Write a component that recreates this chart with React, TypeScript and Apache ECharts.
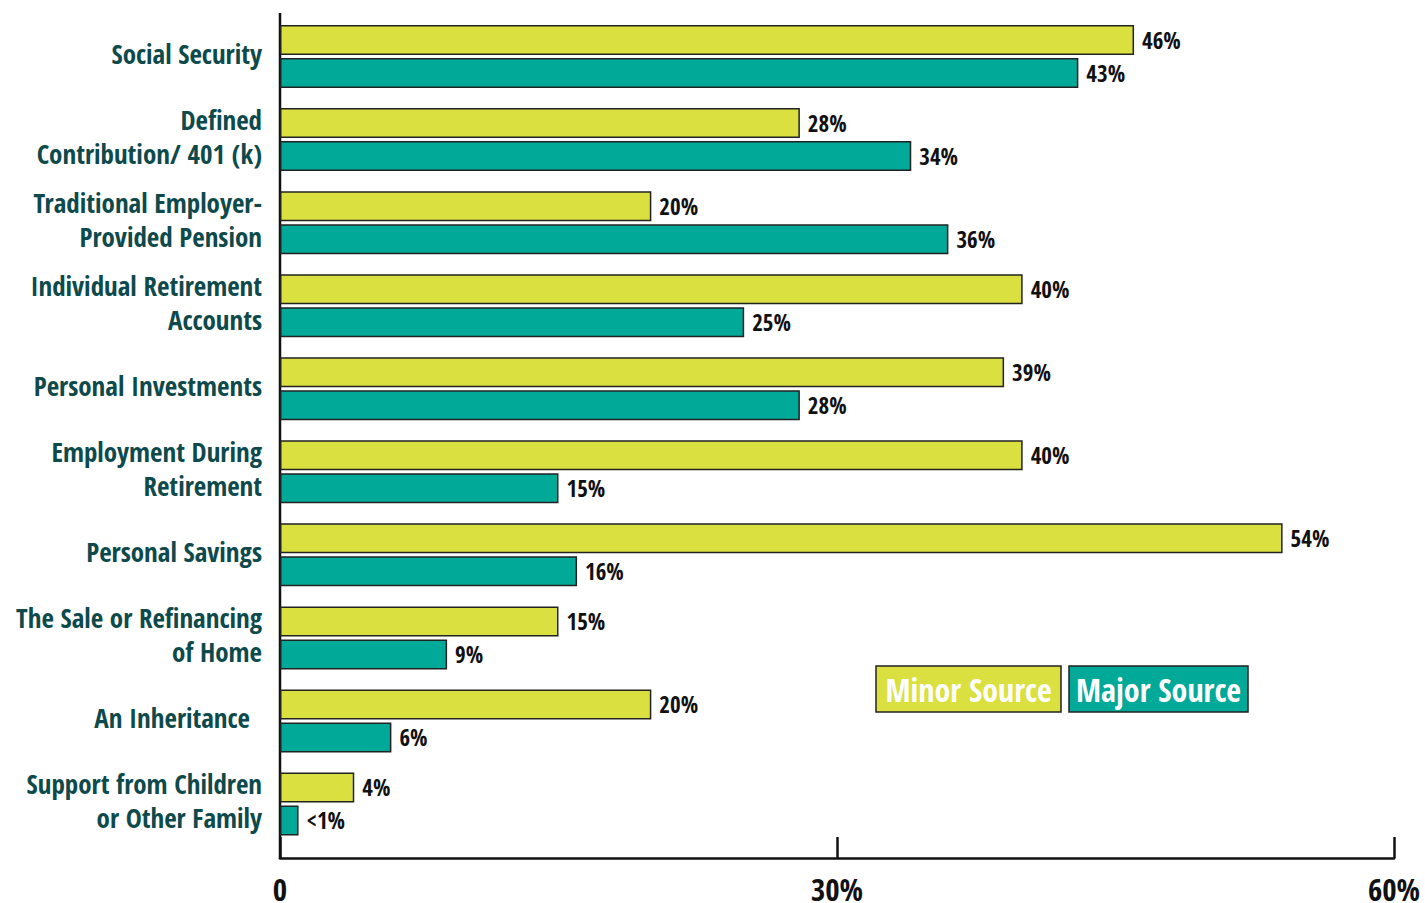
import React, { useEffect, useRef } from "react";
import * as echarts from "echarts";

const categories = [
  "Social Security",
  "Defined\nContribution/ 401 (k)",
  "Traditional Employer-\nProvided Pension",
  "Individual Retirement\nAccounts",
  "Personal Investments",
  "Employment During\nRetirement",
  "Personal Savings",
  "The Sale or Refinancing\nof Home",
  "An Inheritance",
  "Support from Children\nor Other Family",
];
const minorValues = [46, 28, 20, 40, 39, 40, 54, 15, 20, 4];
const majorValues = [43, 34, 36, 25, 28, 15, 16, 9, 6, 1];
const majorLabels = ["43%", "34%", "36%", "25%", "28%", "15%", "16%", "9%", "6%", "<1%"];
const xTicks = [0, 30, 60];
const seriesNames = ["Minor Source", "Major Source"];

const FONT = "'Open Sans Condensed', 'Roboto Condensed', sans-serif";
const YELLOW = "#d9e03f";
const TEAL = "#00a998";
const LABEL_COLOR = "#0e4a4b";

export default function App() {
  const ref = useRef<HTMLDivElement>(null);
  useEffect(() => {
    document.body.style.margin = "0";
    if (!ref.current) return;
    const chart = echarts.init(ref.current, undefined, { renderer: "svg" });
    const gridLeft = 280;
    const gridRight = 31;
    const gridTop = 15;
    const gridHeight = 830.5;
    const axisY = 858;
    const yLabelStyle = {
      fontFamily: FONT,
      fontWeight: "bold",
      fontSize: 27,
      lineHeight: 34,
      color: LABEL_COLOR,
    };
    chart.setOption({
      animation: false,
      grid: { left: gridLeft, right: gridRight, top: gridTop, height: gridHeight, containLabel: false, outerBoundsMode: "none" },
      xAxis: {
        type: "value",
        min: xTicks[0],
        max: xTicks[xTicks.length - 1],
        interval: 30,
        offset: axisY - (gridTop + gridHeight),
        axisLine: { show: true, lineStyle: { color: "#111", width: 2.5 } },
        axisTick: { show: true, inside: true, length: 21, lineStyle: { color: "#111", width: 2.5 } },
        splitLine: { show: false },
        axisLabel: {
          margin: 18,
          fontFamily: FONT,
          fontWeight: "bold",
          fontSize: 31,
          lineHeight: 26,
          color: "#111",
          formatter: (v: number) => (v === 0 ? "0" : v + "%"),
        },
      },
      yAxis: {
        type: "category",
        data: categories,
        inverse: true,
        axisLine: { show: false },
        axisTick: { show: false },
        axisLabel: {
          margin: 18,
          ...yLabelStyle,
          padding: [0, 0, 6, 0],
          align: "right",
          formatter: (v: string) => (v === "An Inheritance" ? "{inh|" + v + "}" : v),
          rich: {
            inh: { ...yLabelStyle, padding: [0, 12, 0, 0] },
          },
        },
      },
      series: [
        {
          name: seriesNames[0],
          type: "bar",
          data: minorValues,
          barWidth: 30,
          barGap: "10%",
          itemStyle: { color: YELLOW, borderColor: "#222", borderWidth: 1.5 },
          label: {
            show: true,
            position: "right",
            distance: 8,
            fontFamily: FONT,
            fontWeight: "bold",
            fontSize: 23,
            color: "#111",
            formatter: (p: any) => p.value + "%",
          },
        },
        {
          name: seriesNames[1],
          type: "bar",
          data: majorValues,
          barWidth: 30,
          barGap: "10%",
          itemStyle: { color: TEAL, borderColor: "#222", borderWidth: 1.5 },
          label: {
            show: true,
            position: "right",
            distance: 8,
            fontFamily: FONT,
            fontWeight: "bold",
            fontSize: 23,
            color: "#111",
            formatter: (p: any) => majorLabels[p.dataIndex],
          },
        },
      ],
      graphic: [
        {
          type: "line",
          shape: { x1: gridLeft, y1: 13, x2: gridLeft, y2: axisY + 1 },
          style: { stroke: "#111", lineWidth: 2.5 },
        },
        {
          type: "group",
          x: 876,
          y: 666,
          children: [
            {
              type: "rect",
              shape: { x: 0, y: 0, width: 185, height: 46 },
              style: { fill: YELLOW, stroke: "#222", lineWidth: 1.5 },
            },
            {
              type: "text",
              x: 92.5,
              y: 23,
              style: {
                text: seriesNames[0],
                fill: "#fff",
                font: "600 32px " + FONT,
                align: "center",
                verticalAlign: "middle",
              },
            },
            {
              type: "rect",
              shape: { x: 193, y: 0, width: 179, height: 46 },
              style: { fill: TEAL, stroke: "#222", lineWidth: 1.5 },
            },
            {
              type: "text",
              x: 282.5,
              y: 23,
              style: {
                text: seriesNames[1],
                fill: "#fff",
                font: "600 32px " + FONT,
                align: "center",
                verticalAlign: "middle",
              },
            },
          ],
        },
      ],
    });
    return () => chart.dispose();
  }, []);
  return <div ref={ref} style={{ width: 1425, height: 903 }} />;
}
